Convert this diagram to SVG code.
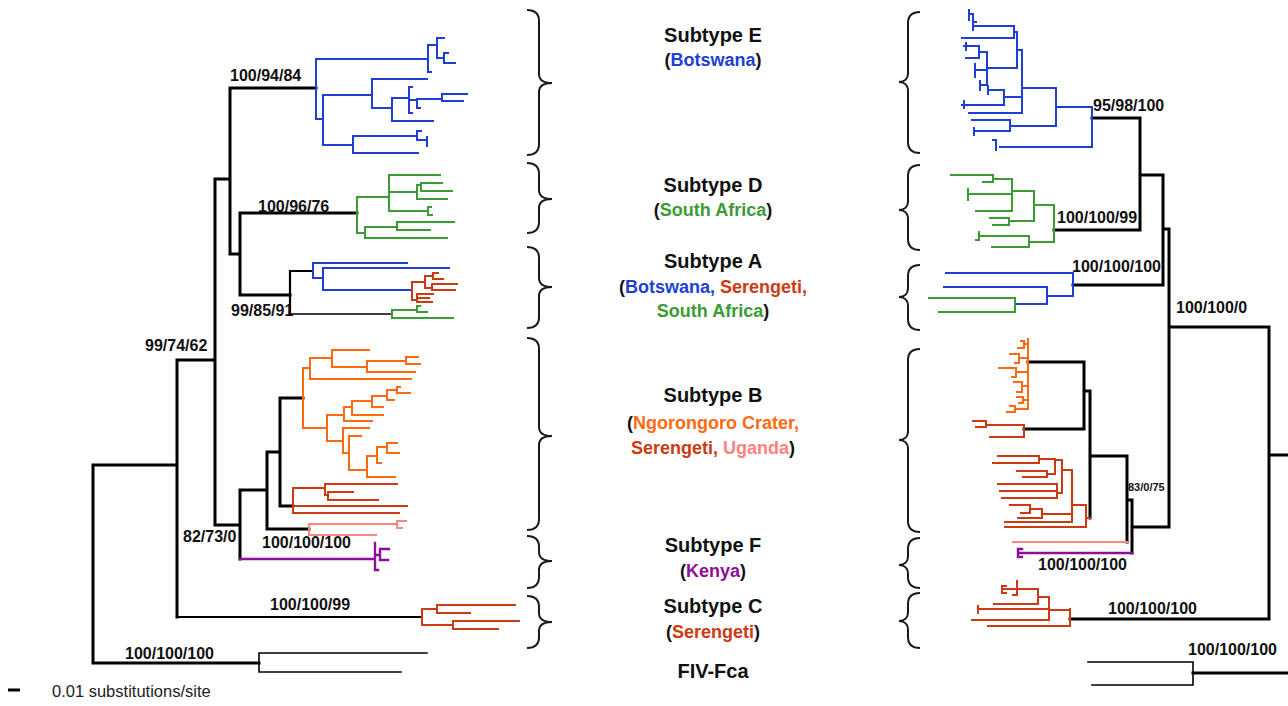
<svg xmlns="http://www.w3.org/2000/svg" width="1288" height="706" viewBox="0 0 1288 706">
<style>
.k{stroke:#000;stroke-width:3;fill:none;stroke-linecap:square}
.k2{stroke:#000;stroke-width:2.2;fill:none;stroke-linecap:square}
.kt{stroke:#000;stroke-width:1.6;fill:none;stroke-linecap:square}
.b{stroke:#1d3fd6;stroke-width:2;fill:none;stroke-linecap:square}
.g{stroke:#3b9b35;stroke-width:2;fill:none;stroke-linecap:square}
.o{stroke:#ff6a10;stroke-width:2;fill:none;stroke-linecap:square}
.r{stroke:#cc3a12;stroke-width:2;fill:none;stroke-linecap:square}
.p{stroke:#ff8585;stroke-width:2;fill:none;stroke-linecap:square}
.m{stroke:#8b0d98;stroke-width:2.4;fill:none;stroke-linecap:square}
.br{stroke:#1a1a1a;stroke-width:2;fill:none}
.lb{font-family:"Liberation Sans",Arial,sans-serif;font-weight:bold;font-size:16px;fill:#111}
.sm{font-family:"Liberation Sans",Arial,sans-serif;font-weight:bold;font-size:11px;fill:#111}
.t{font-family:"Liberation Sans",Arial,sans-serif;font-weight:bold;font-size:20px;fill:#111;text-anchor:middle}
.s{font-family:"Liberation Sans",Arial,sans-serif;font-weight:bold;font-size:18px;fill:#111;text-anchor:middle}
.sc{font-family:"Liberation Sans",Arial,sans-serif;font-size:16.5px;fill:#222}
</style>
<rect width="1288" height="706" fill="#fff"/>

<g id="connectors">
<!-- LEFT TREE -->
<g id="left-backbone">
<path class="k" d="M93,465V663 M93,465H177 M93,663H259 M177,360V617 M177,360H215 M215,179V525 M215,179H230 M215,525H240 M230,88V254 M230,88H316 M230,254H240 M240,213V295 M240,213H357 M240,295H290 M240,490V559 M240,490H267 M267,452V529 M267,452H280 M267,529H309 M280,398V506 M280,398H303 M280,506H293"/>
<path class="k2" d="M177,617H422 M290,271V314 M290,271H313"/>
<path class="kt" d="M290,314H392 M259,653V672 M259,653H427 M259,672H401"/>
</g>
<g id="left-E">
<path class="b" d="M316,59V119 M316,59H428 M316,119H323 M323,95V145 M323,95H372 M323,145H353 M353,136V153 M353,136H417 M353,153H418 M417,131V140 M417,131H421 M417,140H427 M427,137V146 M372,79V108 M372,79H427 M372,108H392 M392,98V121 M392,98H409 M392,121H433 M409,87V113 M409,87H412 M409,100H417 M409,113H412 M417,99V108 M417,99H442 M417,108H420 M442,94V101 M442,94H467 M442,101H463 M428,45V72 M428,45H437 M428,72H431 M437,38V58 M437,38H444 M437,58H444 M444,53V63 M444,53H448 M444,63H455"/>
</g>
<g id="left-D">
<path class="g" d="M357,197V233 M357,197H389 M357,233H365 M389,175V211 M389,175H440 M389,192H417 M389,211H428 M417,185V199 M417,185H421 M417,199H447 M421,183V191 M421,183H442 M421,191H452 M428,207V215 M428,207H431 M428,215H432 M365,227V238 M365,227H397 M365,238H447 M397,222V230 M397,222H454 M397,230H430"/>
</g>
<g id="left-A">
<path class="b" d="M313,263V278 M313,263H407 M313,278H323 M323,268V290 M323,268H449 M323,290H412"/>
<path class="r" d="M412,282V300 M412,282H425 M412,300H417 M425,276V288 M425,276H433 M425,288H432 M433,273V279 M433,273H438 M433,279H443 M432,284V290 M432,284H457 M432,290H455 M417,294V302 M417,294H433 M417,298H429 M417,302H432"/>
<path class="g" d="M392,310V318 M392,310H417 M392,318H453 M417,306V312 M417,306H420 M417,312H427"/>
</g>
<g id="left-B">
<path class="o" d="M303,368V428 M303,368H310 M303,428H327 M310,358V379 M310,358H332 M310,379H411 M332,350V367 M332,350H369 M332,367H367 M367,361V372 M367,361H406 M367,372H415 M406,357V364 M406,357H418 M406,364H420 M327,415V441 M327,415H344 M327,441H343 M344,407V421 M344,407H352 M344,421H372 M352,401V415 M352,401H372 M352,415H383 M372,396V407 M372,396H387 M372,407H383 M387,390V400 M387,390H397 M387,400H394 M397,387V393 M397,387H400 M397,393H410 M343,428V453 M343,428H369 M343,453H349 M349,436V470 M349,436H361 M349,470H367 M367,456V477 M367,456H377 M367,477H395 M377,447V463 M377,447H387 M377,463H381 M387,443V453 M387,443H397 M387,453H399"/>
<path class="r" d="M293,488V513 M293,488H325 M293,506H407 M293,513H399 M325,484V495 M325,484H397 M325,495H328 M328,492V500 M328,492H353 M328,500H378"/>
<path class="p" d="M309,524V535 M309,524H397 M309,535H376 M397,521V528 M397,521H406 M397,528H402"/>
</g>
<g id="left-F">
<path class="m" d="M240,559H375 M375,543V570 M375,555H380 M375,570H378 M380,549V560 M380,549H389 M380,560H388"/>
</g>
<g id="left-C">
<path class="r" d="M422,609V625 M422,609H437 M422,625H453 M437,605V613 M437,605H515 M437,613H470 M453,621V629 M453,621H519 M453,629H498"/>
</g>

<!-- RIGHT TREE -->
<g id="right-backbone">
<path class="k" d="M1269,327V619 M1269,455H1288 M1169,327H1269 M1070,619H1269 M1169,229V527 M1169,229H1163 M1169,527H1132 M1163,175V285 M1163,175H1140 M1163,285H1073 M1140,118V230 M1140,118H1092 M1140,230H1054 M1132,500V553 M1132,500H1127 M1127,456V542 M1127,456H1090 M1090,391V518 M1090,391H1084 M1084,362V429 M1084,362H1028 M1084,429H1024 M1193,673H1288"/>
<path class="kt" d="M1193,662V685 M1193,662H1088 M1193,685H1092"/>
</g>
<g id="right-E">
<path class="b" d="M1092,107V147 M1092,107H1056 M1092,147H1000 M996,140V150 M996,140H993 M1056,88V126 M1056,88H1022 M1056,126H1010 M1010,120V131 M1010,120H972 M1010,131H974 M974,128V135 M1022,50V113 M1022,50H1017 M1022,97H1004 M1022,113H969 M1017,32V68 M1017,32H1014 M1017,68H987 M1014,26V38 M1014,26H973 M1014,38H962 M973,14V30 M973,14H969 M969,10V20 M973,22H976 M987,52V85 M987,52H979 M987,70H975 M987,85H980 M975,64V77 M980,81V90 M979,46V58 M979,46H964 M979,58H966 M966,43V50 M1004,90V105 M1004,90H988 M1004,105H962 M988,86V94 M964,101V108"/>
</g>
<g id="right-D">
<path class="g" d="M1054,205V242 M1054,205H1034 M1054,242H1029 M1034,191V221 M1034,191H1012 M1034,221H1009 M1012,179V211 M1012,179H993 M1012,194H968 M1012,211H976 M968,189V200 M993,175V182 M993,175H951 M993,182H983 M1009,218V225 M1009,218H990 M1009,225H993 M1029,236V247 M1029,236H979 M1029,247H992 M979,232V240 M979,240H976"/>
</g>
<g id="right-A">
<path class="b" d="M1073,273V296 M1073,273H946 M1073,296H1047 M1047,287V304 M1047,287H944 M1047,304H1015"/>
<path class="g" d="M1015,298V312 M1015,298H929 M1015,312H939"/>
</g>
<g id="right-B">
<path class="o" d="M1028,339V409 M1028,344H1024 M1024,341V348 M1024,341H1021 M1024,348H1018 M1028,358H1019 M1019,354V363 M1019,354H1010 M1019,363H1015 M1028,372H1016 M1016,368V377 M1016,368H999 M1016,377H1012 M1028,386H1022 M1022,382V392 M1022,382H1014 M1022,392H1017 M1028,400H1023 M1023,397V403 M1023,397H1017 M1023,403H1019 M1028,409H1015 M1015,406V412 M1015,406H1010 M1015,412H1007"/>
<path class="r" d="M1024,425V437 M1024,425H986 M1024,437H990 M986,421V427 M986,421H973 M986,427H976"/>
<path class="r" d="M1090,518H1086 M1086,505V527 M1086,505H1072 M1086,527H1005 M1072,470V522 M1072,470H1062 M1072,514H1042 M1072,522H1005 M1062,460V493 M1062,460H1055 M1062,493H1057 M1055,459V474 M1055,459H1039 M1055,474H1047 M1039,456V463 M1039,456H998 M1039,463H993 M1047,471V477 M1047,471H1017 M1047,477H1023 M1057,484V498 M1057,484H998 M1057,491H1000 M1057,498H1002 M1042,509V518 M1042,509H1030 M1042,518H1018 M1030,505V513 M1030,505H1010 M1030,513H1021"/>
<path class="p" d="M1013,542H1127"/>
</g>
<g id="right-F">
<path class="m" d="M1018,553H1132 M1018,549V557 M1018,549H1022 M1018,557H1022"/>
</g>
<g id="right-C">
<path class="r" d="M1070,609V626 M1070,610H1049 M1070,626H988 M1049,597V620 M1049,597H1038 M1049,609H978 M1049,620H972 M978,606V613 M1038,589V604 M1038,589H1017 M1038,604H994 M1017,581V595 M1017,589H1002 M1017,595H1013 M1002,586V593 M1002,586H1006 M1002,593H1006"/>
</g>

<!-- braces -->
<g id="braces-left">
<path class="br" d="M527,10 C535,10 539,13 539,21 V74 C539,80 544,83 552,83 C544,83 539,86 539,92 V144 C539,152 535,155 527,155"/>
<path class="br" d="M527,163 C535,163 539,166 539,174 V190 C539,196 544,199 552,199 C544,199 539,202 539,208 V222 C539,230 535,233 527,233"/>
<path class="br" d="M527,247 C535,247 539,250 539,258 V278 C539,284 544,287 552,287 C544,287 539,290 539,296 V317 C539,325 535,328 527,328"/>
<path class="br" d="M527,338 C535,338 539,341 539,349 V427 C539,433 544,436 552,436 C544,436 539,439 539,445 V519 C539,527 535,530 527,530"/>
<path class="br" d="M527,536 C535,536 539,539 539,547 V552 C539,558 544,561 552,561 C544,561 539,564 539,570 V577 C539,585 535,588 527,588"/>
<path class="br" d="M527,596 C535,596 539,599 539,607 V613 C539,619 544,622 552,622 C544,622 539,625 539,631 V637 C539,645 535,648 527,648"/>
</g>
<g id="braces-right">
<path class="br" d="M920,12 C912,12 908,15 908,23 V73 C908,79 904,82 899,82 C904,82 908,85 908,91 V142 C908,150 912,153 920,153"/>
<path class="br" d="M920,165 C912,165 908,168 908,176 V201 C908,207 904,210 899,210 C904,210 908,213 908,219 V239 C908,247 912,250 920,250"/>
<path class="br" d="M920,265 C912,265 908,268 908,276 V288 C908,294 904,297 899,297 C904,297 908,300 908,306 V319 C908,327 912,330 920,330"/>
<path class="br" d="M920,349 C912,349 908,352 908,360 V431 C908,437 904,440 899,440 C904,440 908,443 908,449 V521 C908,529 912,532 920,532"/>
<path class="br" d="M920,538 C912,538 908,541 908,549 V556 C908,562 904,565 899,565 C904,565 908,568 908,574 V577 C908,585 912,588 920,588"/>
<path class="br" d="M920,593 C912,593 908,596 908,604 V612 C908,618 904,621 899,621 C904,621 908,624 908,630 V637 C908,645 912,648 920,648"/>
</g>
</g>

<!-- support labels -->
<g id="left-labels">
<text class="lb" x="230" y="81">100/94/84</text>
<text class="lb" x="258" y="212">100/96/76</text>
<text class="lb" x="231" y="316">99/85/91</text>
<text class="lb" x="145" y="351">99/74/62</text>
<text class="lb" x="183" y="542">82/73/0</text>
<text class="lb" x="262" y="548">100/100/100</text>
<text class="lb" x="270" y="610">100/100/99</text>
<text class="lb" x="125" y="659">100/100/100</text>
</g>
<g id="right-labels">
<text class="lb" x="1093" y="111">95/98/100</text>
<text class="lb" x="1057" y="223">100/100/99</text>
<text class="lb" x="1072" y="272">100/100/100</text>
<text class="lb" x="1176" y="313">100/100/0</text>
<text class="sm" x="1128" y="491">83/0/75</text>
<text class="lb" x="1038" y="570">100/100/100</text>
<text class="lb" x="1108" y="614">100/100/100</text>
<text class="lb" x="1188" y="655">100/100/100</text>
</g>

<!-- subtype labels -->
<g id="subtype-E">
<text class="t" x="713" y="42">Subtype E</text>
<text class="s" x="713" y="66">(<tspan fill="#1d3fd6">Botswana</tspan>)</text>
</g>
<g id="subtype-D">
<text class="t" x="713" y="192">Subtype D</text>
<text class="s" x="713" y="216">(<tspan fill="#3b9b35">South Africa</tspan>)</text>
</g>
<g id="subtype-A">
<text class="t" x="713" y="268">Subtype A</text>
<text class="s" x="713" y="293">(<tspan fill="#1d3fd6">Botswana,</tspan> <tspan fill="#cc3a12">Serengeti,</tspan></text>
<text class="s" x="713" y="317"><tspan fill="#3b9b35">South Africa</tspan>)</text>
</g>
<g id="subtype-B">
<text class="t" x="713" y="402">Subtype B</text>
<text class="s" x="713" y="429">(<tspan fill="#ff6a10">Ngorongoro Crater,</tspan></text>
<text class="s" x="713" y="454"><tspan fill="#cc3a12">Serengeti,</tspan> <tspan fill="#ff8080">Uganda</tspan>)</text>
</g>
<g id="subtype-F">
<text class="t" x="713" y="552">Subtype F</text>
<text class="s" x="713" y="577">(<tspan fill="#8b0d98">Kenya</tspan>)</text>
</g>
<g id="subtype-C">
<text class="t" x="713" y="613">Subtype C</text>
<text class="s" x="713" y="638">(<tspan fill="#cc3a12">Serengeti</tspan>)</text>
</g>
<g id="outgroup">
<text class="t" x="713" y="678">FIV-Fca</text>
</g>

<g id="scale">
<path d="M8,690H20" stroke="#000" stroke-width="3"/>
<text class="sc" x="52" y="697">0.01 substitutions/site</text>
</g>
</svg>
